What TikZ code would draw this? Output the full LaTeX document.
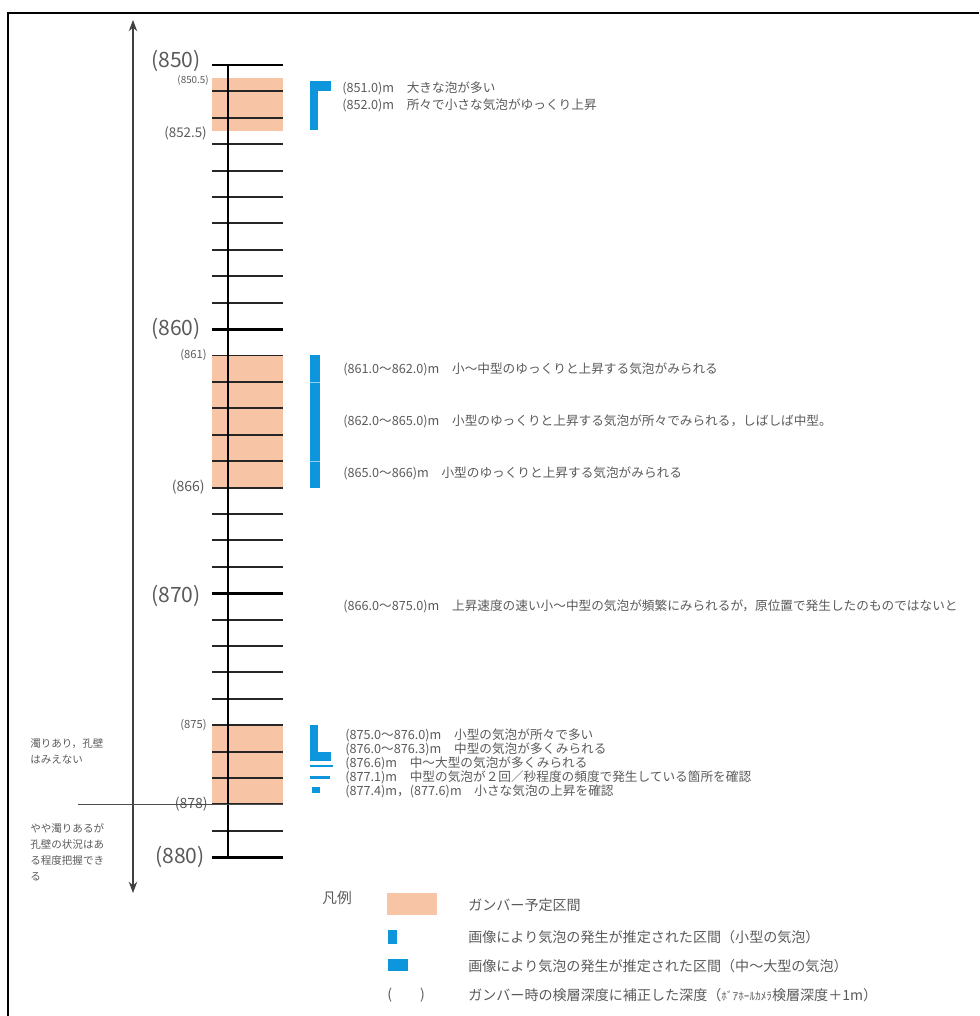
\documentclass[tikz,border=0pt]{standalone}
\usepackage{fontspec}
\setmainfont{Noto Sans CJK JP}
\usepackage{tikz}
\usetikzlibrary{positioning, arrows.meta}

\definecolor{gambar}{RGB}{247,196,166}
\definecolor{bubble}{RGB}{14,150,220}
\definecolor{txtgray}{RGB}{90,90,90}

\begin{document}
\begin{tikzpicture}[x=0.025cm, y=-0.025cm,
    tick/.style={line width=1.4pt, black!85},
    majortick/.style={line width=2.1pt, black},
    bigdep/.style={anchor=east, inner sep=0pt, text=txtgray, font=\fontsize{15}{15}\selectfont},
    smalldep/.style={anchor=east, inner sep=0pt, text=txtgray, font=\fontsize{8}{8}\selectfont},
    note/.style={anchor=west, inner sep=0pt, text=txtgray, font=\fontsize{9}{9}\selectfont},
    side/.style={anchor=north west, inner sep=0pt, align=left, text=txtgray, font=\fontsize{7.5}{11.5}\selectfont},
    legend/.style={anchor=west, inner sep=0pt, text=txtgray, font=\fontsize{10}{10}\selectfont}]
    \useasboundingbox (0,0) rectangle (979,1016);
    % --- frame ---
    \draw[line width=1.2pt] (8,1016) -- (8,13) -- (979,13);
    % --- observation arrow ---
    \coordinate (arrtop) at (133,20);
    \coordinate (arrbot) at (133,893);
    \draw[{Stealth[length=8pt,width=6pt]}-{Stealth[length=8pt,width=6pt]}, line width=1pt, black!75] (arrtop) -- (arrbot);
    % --- depth column (y in metres below 850) ---
    \begin{scope}[yshift=-1.625cm, y=-0.66cm]
        \fill[gambar] (212,0.5) rectangle (283,2.5);
        \fill[gambar] (212,11) rectangle (283,16);
        \fill[gambar] (212,25) rectangle (283,28);
        \foreach \d in {0,...,30} {
            \draw[tick] (212,\d) -- (283,\d);
        }
        \foreach \d in {0,10,20,30} {
            \draw[majortick] (212,\d) -- (283,\d);
        }
        \coordinate (axtop) at (228,0);
        \coordinate (axbot) at (228,30);
        \draw[line width=1.4pt] (axtop) -- (axbot);
        % limit of visibility
        \coordinate (cutL) at (78,28);
        \coordinate (cutR) at (283,28);
        % depth labels
        \node[bigdep] (d850) at (201,-0.15) {(850)};
        \node[bigdep] (d860) at (201,10) {(860)};
        \node[bigdep] (d870) at (201,20.1) {(870)};
        \node[bigdep] (d880) at (205,30) {(880)};
        \node[smalldep, font=\fontsize{7}{7}\selectfont] (d8505) at (209,0.6) {(850.5)};
        \node[smalldep, font=\fontsize{9.5}{9.5}\selectfont] (d8525) at (207,2.6) {(852.5)};
        \node[smalldep] (d861) at (207,11) {(861)};
        \node[smalldep, font=\fontsize{10}{10}\selectfont] (d866) at (205,16) {(866)};
        \node[smalldep] (d875) at (207,25) {(875)};
        \node[smalldep, font=\fontsize{10}{10}\selectfont] (d878) at (208,28) {(878)};
        \draw[line width=1pt, black!70] (cutL) -- (cutR);
        % bubble intervals
        \fill[bubble] (310,0.6) rectangle (318,2.45);
        \fill[bubble] (310,0.6) rectangle (331,1.0);
        \fill[bubble] (310,11) rectangle (320,16);
        \foreach \d in {12,15} {
            \draw[line width=0.5pt, white!55!bubble] (310,\d) -- (320,\d);
        }
        \fill[bubble] (310,25) rectangle (318,26.3);
        \fill[bubble] (310,26.0) rectangle (331,26.35);
        \fill[bubble] (310,26.5) rectangle (333,26.6);
        \fill[bubble] (310,26.92) rectangle (330,27.02);
        \fill[bubble] (312,27.35) rectangle (320,27.55);
    \end{scope}
    % --- observation notes ---
    \node[note] (n1) at (342,88) {(851.0)m　大きな泡が多い};
    \node[note] (n2) at (342,105) {(852.0)m　所々で小さな気泡がゆっくり上昇};
    \node[note] (n3) at (343,369) {(861.0～862.0)m　小～中型のゆっくりと上昇する気泡がみられる};
    \node[note] (n4) at (343,421) {(862.0～865.0)m　小型のゆっくりと上昇する気泡が所々でみられる，しばしば中型。};
    \node[note] (n5) at (343,473) {(865.0～866)m　小型のゆっくりと上昇する気泡がみられる};
    \node[note] (n6) at (343,606) {(866.0～875.0)m　上昇速度の速い小～中型の気泡が頻繁にみられるが，原位置で発生したのものではないと};
    \node[note] (n7) at (345,735) {(875.0～876.0)m　小型の気泡が所々で多い};
    \node[note] (n8) at (345,749) {(876.0～876.3)m　中型の気泡が多くみられる};
    \node[note] (n9) at (345,763) {(876.6)m　中～大型の気泡が多くみられる};
    \node[note] (n10) at (345,777) {(877.1)m　中型の気泡が２回／秒程度の頻度で発生している箇所を確認};
    \node[note] (n11) at (345,791) {(877.4)m，(877.6)m　小さな気泡の上昇を確認};
    % --- borehole wall visibility ---
    \node[side] (murky) at (30,738) {濁りあり，孔壁\\はみえない};
    \node[side] (clear) at (30,823) {やや濁りあるが\\孔壁の状況はあ\\る程度把握でき\\る};
    % --- legend ---
    \node[legend, font=\fontsize{10.5}{10.5}\selectfont] (legtitle) at (322,898) {凡例};
    \fill[gambar] (387,893) rectangle (437,915);
    \fill[bubble] (388,930) rectangle (397,944);
    \fill[bubble] (388,959) rectangle (408,971);
    \node[legend] (leg1) at (468,905) {ガンバー予定区間};
    \node[legend] (leg2) at (468,937) {画像により気泡の発生が推定された区間（小型の気泡）};
    \node[legend] (leg3) at (468,966) {画像により気泡の発生が推定された区間（中～大型の気泡）};
    \node[legend] (legpar) at (387,995) {(　　)};
    \node[legend] (leg4) at (468,995) {ガンバー時の検層深度に補正した深度（{\fontsize{8}{8}\selectfont ﾎﾞｱﾎｰﾙｶﾒﾗ}検層深度＋1m）};
\end{tikzpicture}
\end{document}
